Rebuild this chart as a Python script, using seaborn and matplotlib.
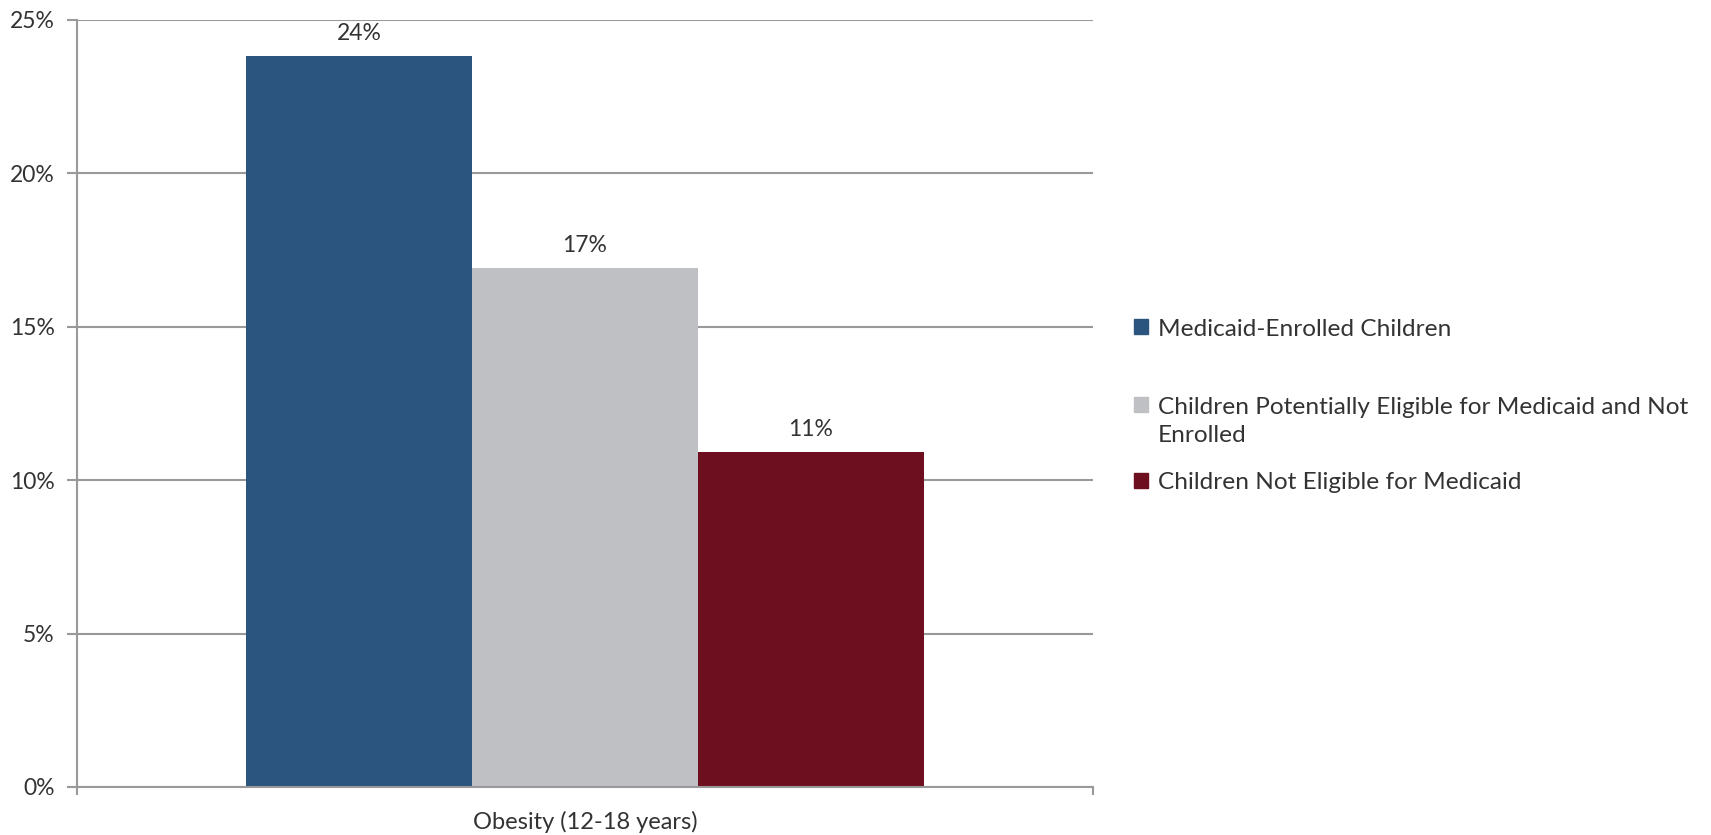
import seaborn as sns
import matplotlib.pyplot as plt
import pandas as pd
from matplotlib.ticker import FixedLocator, FuncFormatter

# data
categories = ["Obesity (12-18 years)"]
groups = ["Medicaid-Enrolled Children",
          "Children Potentially Eligible for Medicaid and Not Enrolled",
          "Children Not Eligible for Medicaid"]
legend_labels = ["Medicaid-Enrolled Children",
                 "Children Potentially Eligible for Medicaid and Not\nEnrolled",
                 "Children Not Eligible for Medicaid"]
values = [23.8, 16.9, 10.9]
colors = ["#2B547E", "#BFC0C4", "#6D0F1E"]

df = pd.DataFrame({"category": categories * 3, "group": groups, "value": values})

sns.set_style("white")
plt.rcParams['font.family'] = ['Lato', 'DejaVu Sans']
text_color = "#333333"
grid_color = "#999999"

fig = plt.figure(figsize=(17.11, 8.35), dpi=100)
ax = fig.add_axes([0.045, 0.0575, 0.5938, 0.919])

sns.barplot(data=df, x="category", y="value", hue="group", hue_order=groups,
            palette=dict(zip(groups, colors)), width=0.667, gap=0,
            saturation=1, linewidth=0, ax=ax, legend=False)

for cont, v in zip(ax.containers, values):
    ax.bar_label(cont, labels=[f"{v:.0f}%"], padding=9, fontsize=16.5, color=text_color)

ax.set_ylim(0, 25)
ax.set_xlim(-0.5, 0.5)
ax.yaxis.set_major_locator(FixedLocator([0, 5, 10, 15, 20, 25]))
ax.yaxis.set_major_formatter(FuncFormatter(lambda y, _: f"{y:.0f}%"))
ax.grid(axis="y", color=grid_color, lw=1.5)
ax.set_axisbelow(True)

for s in ["top", "right"]:
    ax.spines[s].set_visible(False)
for s in ["left", "bottom"]:
    ax.spines[s].set_color(grid_color)
    ax.spines[s].set_linewidth(1.5)

ax.tick_params(axis="y", direction="out", length=7, width=1.5, color=grid_color,
               labelsize=16.5, labelcolor=text_color, pad=9, left=True)
ax.tick_params(axis="x", which="major", length=0, labelsize=17,
               labelcolor=text_color, pad=17)
ax.xaxis.set_minor_locator(FixedLocator([-0.5, 0.5]))
ax.tick_params(axis="x", which="minor", direction="out", length=6, width=1.5,
               color=grid_color, bottom=True)
ax.set_xlabel("")
ax.set_ylabel("")

# legend: Excel gives each entry the same slot, so split it in two
handles = [plt.Rectangle((0, 0), 1, 1, color=c) for c in colors]
leg_kw = dict(frameon=False, fontsize=17.6, labelcolor=text_color, borderpad=0,
              borderaxespad=0, handlelength=0.58, handleheight=0.58,
              handletextpad=0.38, loc="upper left")
leg_a = fig.legend(handles[:2], legend_labels[:2], bbox_to_anchor=(0.6628, 0.618),
                   labelspacing=2.33, **leg_kw)
leg_b = fig.legend(handles[2:], legend_labels[2:], bbox_to_anchor=(0.6628, 0.435),
                   **leg_kw)
for hp in leg_a._legend_handle_box.get_children()[0].get_children():
    hp.align = "top"
for t in leg_a.get_texts():
    t.set_linespacing(1.4)

fig.savefig("out.png", dpi=100)
